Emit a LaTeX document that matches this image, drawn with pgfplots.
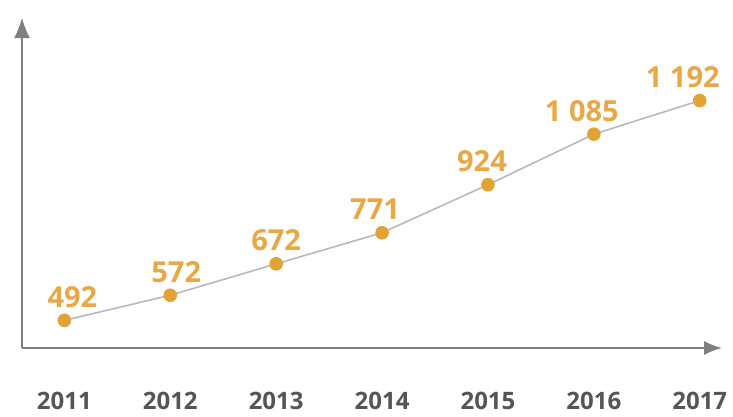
\documentclass[border=0pt]{standalone}
\usepackage{pgfplots}
\pgfplotsset{compat=1.18}
\usetikzlibrary{arrows.meta}
\usepackage{fontspec}
\setmainfont{Open Sans}
\definecolor{axgray}{HTML}{7F7F7F}
\definecolor{linegray}{HTML}{B3BAC3}
\definecolor{dotorange}{HTML}{E3A235}
\definecolor{lblorange}{HTML}{E8A845}
\definecolor{ticktext}{HTML}{555555}
\begin{document}
\begin{tikzpicture}
\begin{axis}[
  name=ax,
  at={(0,0)}, anchor=south west,
  scale only axis, width=700pt, height=330pt,
  xmin=2010.60, xmax=2017.21,
  ymin=404, ymax=1455,
  axis lines=left,
  axis line style={axgray, line width=1.5pt},
  x axis line style={-{Latex[length=18pt,width=14pt]}},
  y axis line style={-{Latex[length=20pt,width=16pt]}},
  xtick={2011,2012,2013,2014,2015,2016,2017},
  xticklabels={2011,2012,2013,2014,2015,2016,2017},
  ytick=\empty,
  major tick length=0pt,
  xticklabel style={font=\fontsize{24}{28}\selectfont\bfseries, text=ticktext, anchor=base, yshift=-61pt},
  clip=false,
]
\addplot[
  color=linegray, line width=1.6pt,
  mark=*, mark size=6pt,
  mark options={fill=dotorange, draw=dotorange},
  point meta=explicit symbolic,
  nodes near coords,
  nodes near coords style={anchor=base, yshift=13pt, text=lblorange, font=\fontsize{29}{33}\selectfont\bfseries},
] coordinates {
  (2011,492) [\hspace*{16pt}492]
  (2012,572) [\hspace*{12pt}572]
  (2013,672) [672]
  (2014,771) [\hspace*{-14pt}771]
  (2015,924) [\hspace*{-12pt}924]
  (2016,1085) [\hspace*{-24pt}1~085]
  (2017,1192) [\hspace*{-34pt}1~192]
};
\end{axis}
\pgfresetboundingbox
\path[use as bounding box] ([shift={(-22pt,-68pt)}]ax.south west) rectangle ([shift={(11pt,18pt)}]ax.north east);
\end{tikzpicture}
\end{document}
